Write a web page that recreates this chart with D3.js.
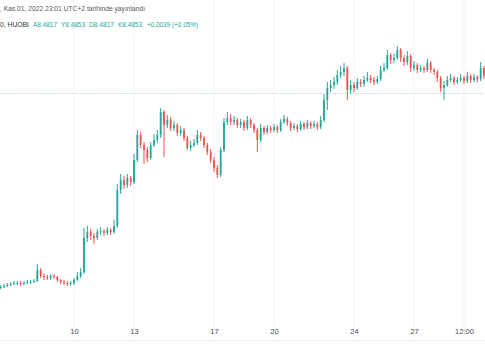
<!DOCTYPE html>
<html><head><meta charset="utf-8">
<script src="https://cdn.jsdelivr.net/npm/d3@7"></script>
<style>
html,body{margin:0;padding:0;background:#fff;}
svg{display:block;font-family:"Liberation Sans",Arial,sans-serif;}
</style></head><body>
<svg id="c" width="485" height="360"></svg>
<script>
// ---- data (4h candles starting 2022-10-06 08:00 UTC) ----
const startTime = Date.UTC(2022, 9, 6, 8, 0);
const stepHours = 4;
const opens = [6.54,6.55,6.56,6.57,6.58,6.59,6.59,6.58,6.59,6.60,6.60,6.61,6.72,6.66,6.65,6.64,6.66,6.65,6.62,6.60,
6.59,6.58,6.59,6.62,6.66,6.70,7.04,7.10,7.06,7.04,7.10,7.11,7.09,7.12,7.10,7.16,7.52,7.62,7.57,7.64,
7.60,7.82,8.07,7.97,7.92,7.84,7.97,8.02,8.07,8.30,8.17,8.22,8.14,8.17,8.09,8.12,8.04,7.94,7.97,7.99,
8.07,8.04,7.97,7.90,7.82,7.74,7.67,7.92,8.20,8.24,8.20,8.22,8.17,8.20,8.14,8.22,8.17,8.12,8.02,8.14,
8.10,8.14,8.12,8.15,8.12,8.20,8.23,8.19,8.14,8.16,8.13,8.18,8.15,8.19,8.16,8.18,8.15,8.22,8.42,8.54,
8.57,8.60,8.67,8.70,8.74,8.52,8.57,8.54,8.60,8.58,8.62,8.64,8.62,8.60,8.63,8.72,8.74,8.87,8.82,8.84,
8.92,8.84,8.80,8.86,8.74,8.77,8.72,8.74,8.72,8.79,8.72,8.70,8.64,8.54,8.57,8.62,8.64,8.60,8.62,8.64,
8.61,8.66,8.62,8.65,8.63,8.74];
const closes = [6.55,6.56,6.57,6.58,6.59,6.59,6.58,6.59,6.60,6.60,6.61,6.72,6.66,6.65,6.64,6.66,6.65,6.62,6.60,6.59,
6.58,6.59,6.62,6.66,6.70,7.04,7.10,7.06,7.04,7.10,7.11,7.09,7.12,7.10,7.16,7.52,7.62,7.57,7.64,7.60,
7.82,8.07,7.97,7.92,7.84,7.97,8.02,8.07,8.30,8.17,8.22,8.14,8.17,8.09,8.12,8.04,7.94,7.97,7.99,8.07,
8.04,7.97,7.90,7.82,7.74,7.67,7.92,8.20,8.24,8.20,8.22,8.17,8.20,8.14,8.22,8.17,8.12,8.02,8.14,8.10,
8.14,8.12,8.15,8.12,8.20,8.23,8.19,8.14,8.16,8.13,8.18,8.15,8.19,8.16,8.18,8.15,8.22,8.42,8.54,8.57,
8.60,8.67,8.70,8.74,8.52,8.57,8.54,8.60,8.58,8.62,8.64,8.62,8.60,8.63,8.72,8.74,8.87,8.82,8.84,8.92,
8.84,8.80,8.86,8.74,8.77,8.72,8.74,8.72,8.79,8.72,8.70,8.64,8.54,8.57,8.62,8.64,8.60,8.62,8.64,8.61,
8.66,8.62,8.65,8.63,8.74,8.66];
const highs = [6.57,6.58,6.59,6.60,6.61,6.61,6.61,6.61,6.62,6.62,6.63,6.78,6.74,6.69,6.67,6.68,6.68,6.66,6.63,6.62,
6.61,6.61,6.64,6.70,6.74,7.14,7.16,7.13,7.09,7.13,7.15,7.13,7.15,7.14,7.22,7.58,7.68,7.66,7.68,7.66,
7.88,8.12,8.10,8.00,7.95,8.00,8.08,8.12,8.34,8.32,8.27,8.25,8.21,8.19,8.16,8.14,8.06,8.01,8.03,8.12,
8.10,8.06,7.99,7.93,7.85,7.77,7.95,8.24,8.30,8.28,8.26,8.24,8.23,8.22,8.26,8.24,8.19,8.14,8.18,8.16,
8.17,8.16,8.18,8.17,8.23,8.27,8.25,8.21,8.19,8.18,8.21,8.20,8.22,8.21,8.21,8.20,8.26,8.48,8.60,8.62,
8.65,8.72,8.76,8.79,8.76,8.62,8.60,8.64,8.63,8.66,8.70,8.67,8.65,8.66,8.76,8.79,8.92,8.89,8.88,8.96,
8.94,8.87,8.91,8.88,8.81,8.79,8.77,8.76,8.83,8.81,8.74,8.72,8.66,8.61,8.66,8.68,8.66,8.65,8.68,8.66,
8.70,8.68,8.68,8.67,8.80,8.76];
const lows = [6.53,6.54,6.55,6.56,6.57,6.57,6.56,6.57,6.58,6.58,6.59,6.60,6.64,6.62,6.62,6.62,6.63,6.60,6.58,6.57,
6.56,6.56,6.57,6.61,6.64,6.68,7.00,7.02,6.98,7.02,7.07,7.06,7.07,7.07,7.08,7.14,7.48,7.53,7.54,7.56,
7.58,7.80,7.94,7.78,7.80,7.82,7.95,7.99,8.04,7.85,8.14,8.11,8.11,8.06,8.06,8.01,7.92,7.91,7.95,7.97,
8.01,7.94,7.87,7.79,7.70,7.64,7.65,7.90,8.17,8.17,8.17,8.14,8.14,8.11,8.12,8.14,8.09,7.90,8.00,8.07,
8.08,8.09,8.10,8.09,8.10,8.18,8.16,8.11,8.12,8.10,8.11,8.12,8.13,8.13,8.14,8.12,8.13,8.20,8.32,8.50,
8.53,8.57,8.64,8.66,8.42,8.48,8.50,8.52,8.55,8.55,8.60,8.59,8.57,8.58,8.61,8.70,8.72,8.78,8.79,8.82,
8.80,8.76,8.77,8.70,8.71,8.69,8.70,8.69,8.70,8.69,8.67,8.60,8.50,8.42,8.55,8.60,8.57,8.58,8.60,8.58,
8.59,8.59,8.60,8.60,8.61,8.63];
const lastPrice = 8.49;
const tickDates = [Date.UTC(2022,9,10), Date.UTC(2022,9,13), Date.UTC(2022,9,17), Date.UTC(2022,9,20),
                   Date.UTC(2022,9,24), Date.UTC(2022,9,27), Date.UTC(2022,9,29,12)];
const tickLabels = ["10","13","17","20","24","27","12:00"];
const headerLine1 = ", Kas 01, 2022 23:01 UTC+2 tarihinde yayınlandı";
const headerSymbol = "0, HUOBI";
const headerValues = ["A8.4817","Y8.4853","D8.4817","K8.4853","+0.0039 (+0.05%)"];

// ---- chart ----
const svg = d3.select("#c");
const W = 485, H = 360, axisY = 340;
const candles = closes.map((c,i)=>({t:new Date(startTime + i*stepHours*3600e3), o:opens[i], h:highs[i], l:lows[i], c}));

const x = d3.scaleUtc().domain([new Date(Date.UTC(2022,9,10)), new Date(Date.UTC(2022,9,27))]).range([74,414]);
const y = d3.scaleLinear().domain([5.82, 9.42]).range([360, 0]);

// grid
svg.append("g").selectAll("line").data(tickDates).join("line")
  .attr("x1",d=>x(d)).attr("x2",d=>x(d)).attr("y1",0).attr("y2",axisY)
  .attr("stroke","#f3f3f3").attr("stroke-width",1);

// bottom separator
svg.append("line").attr("x1",0).attr("x2",W).attr("y1",axisY+0.5).attr("y2",axisY+0.5)
  .attr("stroke","#efefef");

// price line
svg.append("line").attr("x1",0).attr("x2",W).attr("y1",Math.round(y(lastPrice))+0.5).attr("y2",Math.round(y(lastPrice))+0.5)
  .attr("stroke","#9fd3ca").attr("stroke-width",1).attr("stroke-dasharray","1,1.5");

const up = "#26a69a", dn = "#ef5350";
const g = svg.append("g");
const cg = g.selectAll("g").data(candles).join("g");
cg.append("line")
  .attr("x1",d=>x(d.t)).attr("x2",d=>x(d.t))
  .attr("y1",d=>y(d.h)).attr("y2",d=>y(d.l))
  .attr("stroke",d=>d.c>=d.o?up:dn).attr("stroke-width",1);
cg.append("rect")
  .attr("x",d=>x(d.t)-0.9).attr("width",1.8)
  .attr("y",d=>y(Math.max(d.o,d.c)))
  .attr("height",d=>Math.max(1, Math.abs(y(d.o)-y(d.c))))
  .attr("fill",d=>d.c>=d.o?up:dn);

// axis
const ax = d3.axisBottom(x).tickValues(tickDates.map(d=>new Date(d)))
  .tickFormat((d,i)=>tickLabels[i]).tickSize(0).tickPadding(0);
const axg = svg.append("g").attr("transform",`translate(0,${329})`).call(ax);
axg.select(".domain").remove();
axg.selectAll("text").attr("font-size","7.5px").attr("fill","#4a4a4a")
  .attr("font-family","'Liberation Sans',Arial,sans-serif");

// header
svg.append("text").attr("x",0).attr("y",11).attr("font-size","7.5px").attr("fill","#555")
  .attr("textLength",145).attr("lengthAdjust","spacingAndGlyphs").text(headerLine1);
svg.append("text").attr("x",0).attr("y",27).attr("font-size","7.5px").attr("fill","#333")
  .attr("textLength",29).attr("lengthAdjust","spacingAndGlyphs").text(headerSymbol);
const hx = [33,61,89,118,147], hw = [24,24,25,24,51];
headerValues.forEach((v,i)=>{
  svg.append("text").attr("x",hx[i]).attr("y",27).attr("font-size","7.5px").attr("fill","#26a69a")
    .attr("textLength",hw[i]).attr("lengthAdjust","spacingAndGlyphs").text(v);
});
</script>
</body></html>
